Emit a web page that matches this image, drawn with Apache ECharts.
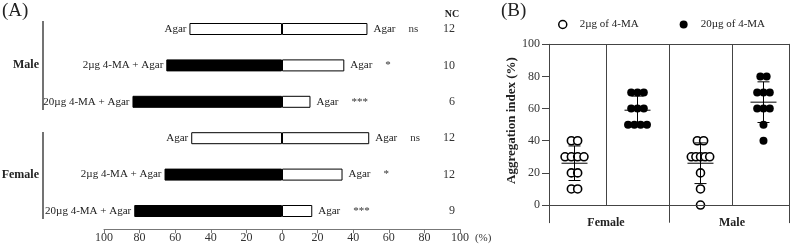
<!DOCTYPE html>
<html>
<head>
<meta charset="utf-8">
<script src="https://cdn.jsdelivr.net/npm/echarts@6/dist/echarts.min.js"></script>
<style>
  html, body { margin: 0; padding: 0; background: #fff; }
  #chart { width: 791px; height: 247px; }
</style>
</head>
<body>
<div id="chart"></div>
<script>
// (A) choice test, rows listed top to bottom
const rowLabels = ['Agar', '2µg 4-MA + Agar', '20µg 4-MA + Agar', 'Agar', '2µg 4-MA + Agar', '20µg 4-MA + Agar']
const leftPercent = [52, 65, 84, 51, 66, 83]
const rightPercent = [48, 35, 16, 49, 34, 17]
const sigMarks = ['ns', '*', '***', 'ns', '*', '***']
const ncCounts = [12, 10, 6, 12, 12, 9]
const sexGroups = ['Male', 'Female']

// (B) aggregation index, one array per column
const bSexes = ['Female', 'Male']
const female2ug = [40, 40, 30, 30, 30, 30, 20, 20, 10, 10]
const female20ug = [70, 70, 70, 60, 60, 60, 50, 50, 50, 50]
const male2ug = [40, 40, 30, 30, 30, 30, 30, 20, 10, 0]
const male20ug = [80, 80, 70, 70, 70, 60, 60, 60, 50, 40]
const yTicksB = [0, 20, 40, 60, 80, 100]

const FONT = 'Liberation Serif'
const rev = arr => arr.slice().reverse()

// category axis runs bottom to top, so flip the rows
const rowIdx = rev(rowLabels.map((_, i) => String(i)))
const labelsRev = rev(rowLabels)
const leftRev = rev(leftPercent)
const rightRev = rev(rightPercent)
const sigRev = rev(sigMarks)
const ncRev = rev(ncCounts)

const columns = [
  { vals: female2ug, dose: 0 },
  { vals: female20ug, dose: 1 },
  { vals: male2ug, dose: 0 },
  { vals: male20ug, dose: 1 }
]

// spread equal values side by side (pixel offsets)
const dotData = dose => {
  const out = []
  columns.forEach((col, ci) => {
    if (col.dose !== dose) return
    const counts = {}
    col.vals.forEach(v => { counts[v] = (counts[v] || 0) + 1 })
    const seen = {}
    col.vals.forEach(v => {
      const n = counts[v]
      const k = seen[v] || 0
      seen[v] = k + 1
      const gap = n > 4 ? 4.6 : 6.3
      out.push({ value: [ci + 0.5, v], symbolOffset: [(k - (n - 1) / 2) * gap, 0] })
    })
  })
  return out
}

const stats = columns.map((col, ci) => {
  const n = col.vals.length
  const mean = col.vals.reduce((a, b) => a + b, 0) / n
  const sd = Math.sqrt(col.vals.reduce((a, b) => a + (b - mean) ** 2, 0) / (n - 1))
  return [ci + 0.5, mean, mean - sd, mean + sd]
})

const chart = echarts.init(document.getElementById('chart'))

const lineStyle = { color: '#444', width: 1 }

const option = {
  animation: false,
  textStyle: { fontFamily: FONT, color: '#222' },
  title: [
    { text: '(A)', left: 2, top: 2, padding: 0, textStyle: { fontFamily: FONT, fontSize: 19, fontWeight: 'normal', color: '#222' } },
    { text: '(B)', left: 501, top: 2, padding: 0, textStyle: { fontFamily: FONT, fontSize: 19, fontWeight: 'normal', color: '#222' } }
  ],
  legend: {
    left: 553,
    top: 14,
    itemWidth: 24,
    itemHeight: 8,
    itemGap: 41,
    textStyle: { fontFamily: FONT, fontSize: 11, color: '#222' },
    data: [
      { name: '2µg of 4-MA', icon: 'circle', itemStyle: { color: '#fff', borderColor: '#000', borderWidth: 1.5 } },
      { name: '20µg of 4-MA', icon: 'circle', itemStyle: { color: '#000' } }
    ]
  },
  grid: [
    { left: 104, right: 331, top: 10.8, bottom: 17.8, outerBoundsMode: 'none' },
    { left: 549, right: 2, top: 44.3, bottom: 24.3, outerBoundsMode: 'none' }
  ],
  xAxis: [
    {
      gridIndex: 0,
      type: 'value',
      min: -100,
      max: 100,
      interval: 20,
      name: '(%)',
      nameLocation: 'end',
      nameGap: 12,
      nameTextStyle: { fontFamily: FONT, fontSize: 11, color: '#333', verticalAlign: 'top', padding: [3, 0, 0, 0] },
      axisLine: { show: true, onZero: false, lineStyle: { color: '#777', width: 1 } },
      axisTick: { show: true, length: 4, lineStyle: { color: '#777' } },
      axisLabel: { fontFamily: FONT, fontSize: 12, color: '#333', margin: 3, formatter: v => Math.abs(v) },
      splitLine: { show: false }
    },
    {
      // sex groups under panel B; the divider tick rises up to the zero line
      gridIndex: 1,
      type: 'value',
      min: 0.095,
      max: 3.905,
      axisLine: { show: false, onZero: false },
      axisTick: { show: true, inside: true, customValues: [2], length: 18, lineStyle },
      axisLabel: {
        customValues: [1, 3],
        formatter: v => bSexes[Math.round((v - 1) / 2)],
        fontFamily: FONT, fontSize: 12, fontWeight: 'bold', color: '#222',
        margin: 0, verticalAlign: 'middle'
      },
      splitLine: { show: false }
    },
    {
      gridIndex: 1,
      type: 'value',
      position: 'top',
      min: 0,
      max: 1,
      axisLine: { show: true, onZero: false, lineStyle },
      axisTick: { show: false },
      axisLabel: { show: false },
      splitLine: { show: false }
    }
  ],
  yAxis: [
    {
      gridIndex: 0,
      type: 'category',
      data: rowIdx,
      axisLine: { show: false },
      axisTick: { show: false },
      axisLabel: { show: false }
    },
    {
      gridIndex: 0,
      type: 'category',
      position: 'right',
      data: rowIdx,
      name: 'NC',
      nameLocation: 'end',
      nameGap: -4,
      nameTextStyle: { fontFamily: FONT, fontSize: 10, fontWeight: 'bold', color: '#222', verticalAlign: 'middle', padding: [0, 16, 0, 0] },
      axisLine: { show: false },
      axisTick: { show: false },
      axisLabel: { inside: true, margin: 5, fontFamily: FONT, fontSize: 12, color: '#333', formatter: (v, i) => ncRev[i] }
    },
    {
      gridIndex: 0,
      type: 'category',
      position: 'left',
      offset: 61,
      data: rev(sexGroups),
      axisLine: { show: false },
      axisTick: { show: false },
      axisLabel: { margin: 4, fontFamily: FONT, fontSize: 12, fontWeight: 'bold', color: '#222' }
    },
    {
      gridIndex: 1,
      type: 'value',
      min: -11,
      max: 100,
      name: 'Aggregation index (%)',
      nameLocation: 'middle',
      nameGap: 30,
      nameTextStyle: { fontFamily: FONT, fontSize: 13, fontWeight: 'bold', color: '#222', padding: [0, 0, 0, 26] },
      axisLine: { show: true, onZero: false, lineStyle },
      axisTick: { show: true, customValues: yTicksB, length: 7, lineStyle },
      axisLabel: { customValues: yTicksB, margin: 9, fontFamily: FONT, fontSize: 12, color: '#333' },
      splitLine: { show: false }
    },
    {
      // right border of panel B
      gridIndex: 1,
      type: 'value',
      position: 'right',
      min: -11,
      max: 100,
      axisLine: { show: true, onZero: false, lineStyle },
      axisTick: { show: false },
      axisLabel: { show: false },
      splitLine: { show: false }
    }
  ],
  series: [
    {
      name: 'left choice',
      type: 'bar',
      xAxisIndex: 0,
      yAxisIndex: 0,
      stack: 'row',
      barWidth: 12,
      data: leftRev.map((v, i) => ({
        value: -v,
        itemStyle: { color: labelsRev[i] === 'Agar' ? '#fff' : '#000', borderColor: '#000', borderWidth: 1 }
      })),
      label: {
        show: true,
        position: 'left',
        distance: 3,
        fontFamily: FONT,
        fontSize: 11,
        color: '#222',
        formatter: p => labelsRev[p.dataIndex]
      }
    },
    {
      name: 'right choice',
      type: 'bar',
      xAxisIndex: 0,
      yAxisIndex: 0,
      stack: 'row',
      barWidth: 12,
      data: rightRev,
      itemStyle: { color: '#fff', borderColor: '#000', borderWidth: 1 },
      label: {
        show: true,
        position: 'right',
        distance: 6,
        formatter: p => `{a|Agar}{s|${sigRev[p.dataIndex]}}`,
        rich: {
          a: { fontFamily: FONT, fontSize: 11, color: '#222' },
          s: { fontFamily: FONT, fontSize: 11, color: '#333', padding: [0, 0, 0, 13] }
        }
      }
    },
    {
      name: '2µg of 4-MA',
      type: 'scatter',
      xAxisIndex: 1,
      yAxisIndex: 3,
      symbol: 'circle',
      symbolSize: 8,
      itemStyle: { color: '#fff', borderColor: '#000', borderWidth: 1.6, opacity: 1 },
      data: dotData(0),
      markLine: {
        silent: true,
        symbol: 'none',
        label: { show: false },
        lineStyle: { color: '#444', width: 1, type: 'solid' },
        data: [
          ...[1, 2, 3].map(x => [{ coord: [x, 0] }, { coord: [x, 100] }]),
          { yAxis: 0 }
        ]
      }
    },
    {
      name: '20µg of 4-MA',
      type: 'scatter',
      xAxisIndex: 1,
      yAxisIndex: 3,
      symbol: 'circle',
      symbolSize: 8,
      itemStyle: { color: '#000', opacity: 1 },
      data: dotData(1)
    },
    {
      name: 'mean ± SD',
      type: 'custom',
      xAxisIndex: 1,
      yAxisIndex: 3,
      z: 5,
      encode: { x: 0, y: [1, 2, 3] },
      data: stats,
      renderItem: (params, api) => {
        const x = api.value(0)
        const m = api.coord([x, api.value(1)])
        const lo = api.coord([x, api.value(2)])
        const hi = api.coord([x, api.value(3)])
        const style = { stroke: '#000', lineWidth: 1 }
        return {
          type: 'group',
          children: [
            { type: 'line', shape: { x1: m[0] - 13, y1: m[1], x2: m[0] + 13, y2: m[1] }, style },
            { type: 'line', shape: { x1: lo[0], y1: lo[1], x2: hi[0], y2: hi[1] }, style },
            { type: 'line', shape: { x1: lo[0] - 6, y1: lo[1], x2: lo[0] + 6, y2: lo[1] }, style },
            { type: 'line', shape: { x1: hi[0] - 6, y1: hi[1], x2: hi[0] + 6, y2: hi[1] }, style }
          ]
        }
      }
    }
  ],
  // group brackets in panel A
  graphic: [
    { type: 'line', shape: { x1: 43, y1: 21, x2: 43, y2: 110 }, style: { stroke: '#444', lineWidth: 1.5 } },
    { type: 'line', shape: { x1: 43, y1: 132, x2: 43, y2: 219 }, style: { stroke: '#444', lineWidth: 1.5 } }
  ]
}

chart.setOption(option)
</script>
</body>
</html>
